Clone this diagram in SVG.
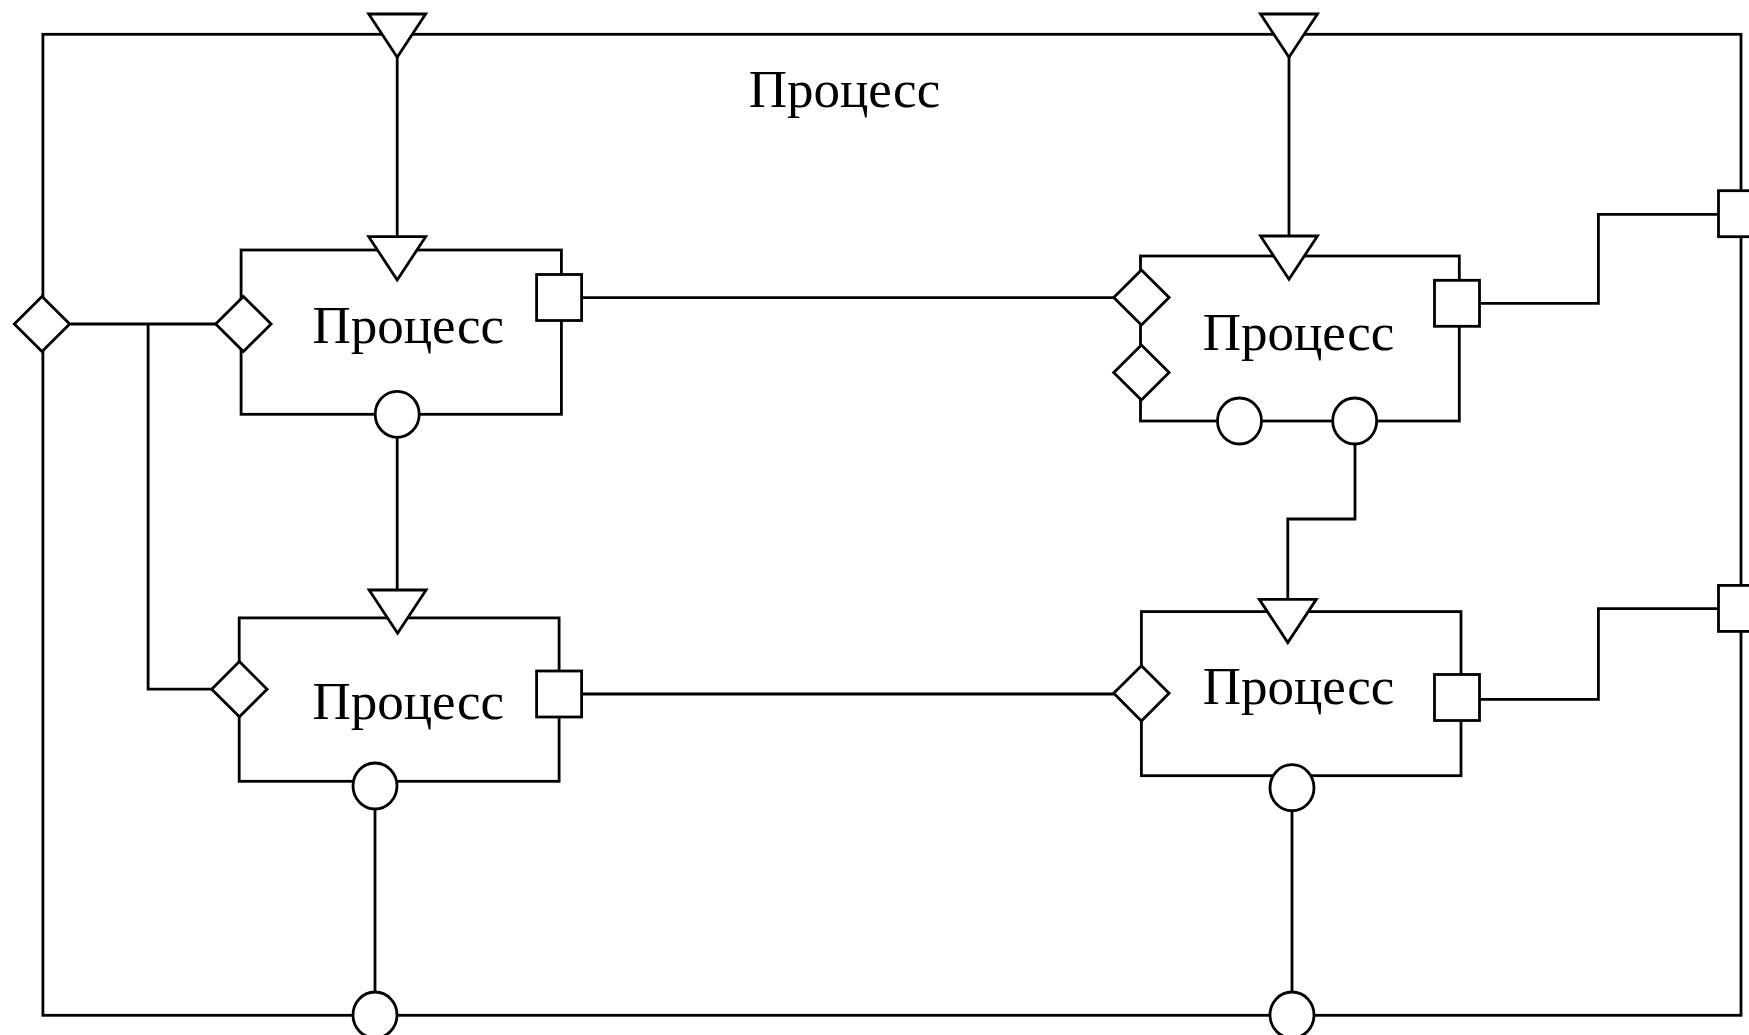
<svg xmlns="http://www.w3.org/2000/svg" width="1749" height="1035" viewBox="0 0 1749 1035">
  <style>
    .ln { fill: none; stroke: #000; stroke-width: 2.8; stroke-linejoin: miter; }
    .box { fill: none; stroke: #000; stroke-width: 2.8; }
    .port { fill: #fff; stroke: #000; stroke-width: 2.8; stroke-linejoin: miter; }
    .lbl { font-family: "Liberation Serif", "Times New Roman", serif; font-size: 53px; fill: #000; text-anchor: middle; }
  </style>
  <defs>
    <!-- port glyphs, drawn centred on the origin -->
    <polygon id="tri" points="-28.5,0 28.5,0 0,43.3"/>
    <polygon id="dia" points="0,-27.6 27.7,0 0,27.6 -27.7,0"/>
    <rect id="sq" x="-22.5" y="-23" width="45" height="46"/>
    <ellipse id="circ" rx="22" ry="23"/>
  </defs>
  <rect width="1749" height="1035" fill="#fff"/>

  <!-- enclosing process -->
  <g id="outer">
    <rect class="box" x="42.9" y="34.3" width="1698.1" height="981"/>
    <text class="lbl" x="844.4" y="107.3">Процесс</text>
  </g>

  <!-- connectors -->
  <g id="connectors">
    <polyline class="ln" points="397.2,57.3 397.2,236.7"/>
    <polyline class="ln" points="1289,57.3 1289,236"/>
    <polyline class="ln" points="70.6,324 216,324"/>
    <polyline class="ln" points="148.1,324 148.1,689.2 211.6,689.2"/>
    <polyline class="ln" points="581.7,297.6 1113,297.6"/>
    <polyline class="ln" points="581.7,694 1113.8,694"/>
    <polyline class="ln" points="1479.3,303.3 1598.4,303.3 1598.4,214.3 1718,214.3"/>
    <polyline class="ln" points="1479.3,699.3 1598.4,699.3 1598.4,608.6 1718,608.6"/>
    <polyline class="ln" points="397.2,437 397.2,590"/>
    <polyline class="ln" points="1355,444 1355,519 1287.8,519 1287.8,599.3"/>
    <polyline class="ln" points="375,809 375,992"/>
    <polyline class="ln" points="1292,810 1292,992"/>
  </g>

  <!-- ports on the enclosing process -->
  <g id="outer-ports">
    <use href="#tri" class="port" x="397.2" y="14"/>
    <use href="#tri" class="port" x="1289" y="14"/>
    <use href="#dia" class="port" x="42" y="324"/>
    <use href="#sq" class="port" x="1741" y="213.7"/>
    <use href="#sq" class="port" x="1741" y="608.4"/>
    <use href="#circ" class="port" x="375" y="1015"/>
    <use href="#circ" class="port" x="1292" y="1015"/>
  </g>

  <!-- top-left process -->
  <g id="proc1">
    <rect class="box" x="241.1" y="250" width="320.3" height="164.3"/>
    <use href="#tri" class="port" x="397.2" y="236.7"/>
    <use href="#dia" class="port" x="243.4" y="324"/>
    <use href="#sq" class="port" x="559.1" y="297.5"/>
    <use href="#circ" class="port" x="397.2" y="414.3"/>
    <text class="lbl" x="408.2" y="343.3">Процесс</text>
  </g>

  <!-- top-right process -->
  <g id="proc2">
    <rect class="box" x="1140.5" y="256" width="318.8" height="165"/>
    <use href="#tri" class="port" x="1289" y="236"/>
    <use href="#dia" class="port" x="1141.4" y="297.5"/>
    <use href="#dia" class="port" x="1141.4" y="372.5"/>
    <use href="#sq" class="port" x="1457" y="303.3"/>
    <use href="#circ" class="port" x="1239.5" y="421"/>
    <use href="#circ" class="port" x="1354.7" y="421"/>
    <text class="lbl" x="1298.5" y="350">Процесс</text>
  </g>

  <!-- bottom-left process -->
  <g id="proc3">
    <rect class="box" x="239.2" y="617.9" width="319.9" height="163.4"/>
    <use href="#tri" class="port" x="397.6" y="590"/>
    <use href="#dia" class="port" x="239.4" y="689.2"/>
    <use href="#sq" class="port" x="559.1" y="694"/>
    <use href="#circ" class="port" x="375" y="786"/>
    <text class="lbl" x="408.2" y="718.7">Процесс</text>
  </g>

  <!-- bottom-right process -->
  <g id="proc4">
    <rect class="box" x="1141.4" y="611.6" width="319.6" height="164.1"/>
    <use href="#tri" class="port" x="1287.8" y="599.3"/>
    <use href="#dia" class="port" x="1141.4" y="693.3"/>
    <use href="#sq" class="port" x="1457" y="697.5"/>
    <use href="#circ" class="port" x="1292" y="787.7"/>
    <text class="lbl" x="1298.5" y="703.7">Процесс</text>
  </g>
</svg>
